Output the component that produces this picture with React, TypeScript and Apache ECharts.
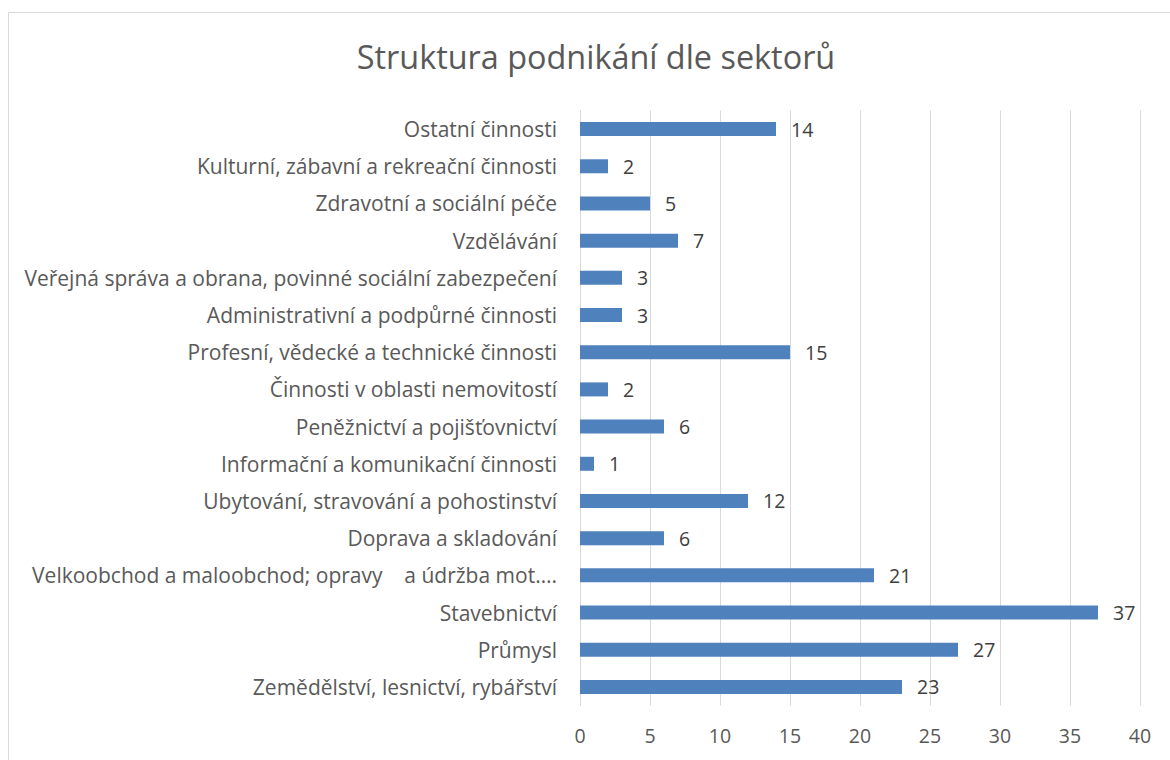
import React, { useEffect, useRef } from "react";
import * as echarts from "echarts";

const categories = [
  "Zemědělství, lesnictví, rybářství",
  "Průmysl",
  "Stavebnictví",
  "Velkoobchod a maloobchod; opravy\u00a0\u00a0\u00a0 a údržba mot\u2026.",
  "Doprava a skladování",
  "Ubytování, stravování a pohostinství",
  "Informační a komunikační činnosti",
  "Peněžnictví a pojišťovnictví",
  "Činnosti v oblasti nemovitostí",
  "Profesní, vědecké a technické činnosti",
  "Administrativní a podpůrné činnosti",
  "Veřejná správa a obrana, povinné sociální zabezpečení",
  "Vzdělávání",
  "Zdravotní a sociální péče",
  "Kulturní, zábavní a rekreační činnosti",
  "Ostatní činnosti",
];
const values = [23, 27, 37, 21, 6, 12, 1, 6, 2, 15, 3, 3, 7, 5, 2, 14];
const titleText = "Struktura podnikání dle sektorů";
const font = "'Open Sans', 'Noto Sans', sans-serif";

export default function App() {
  const ref = useRef<HTMLDivElement>(null);
  useEffect(() => {
    if (!ref.current) return;
    const chart = echarts.init(ref.current, undefined, { renderer: "svg" });
    chart.setOption({
      animation: false,
      backgroundColor: "#ffffff",
      title: {
        text: titleText,
        left: 591,
        textAlign: "center",
        top: 35,
        textStyle: { fontFamily: font, fontSize: 32.4, fontWeight: "normal", color: "#595959" },
      },
      graphic: [
        {
          type: "rect",
          shape: { x: 8.5, y: 12.5, width: 1300, height: 900 },
          style: { fill: "none", stroke: "#D9D9D9", lineWidth: 1 },
          silent: true,
        },
      ],
      grid: { left: 580, right: 30, top: 110.5, bottom: 54.5 },
      xAxis: {
        type: "value",
        min: 0,
        max: 40,
        interval: 5,
        axisLine: { show: false },
        axisTick: { show: false },
        splitLine: { lineStyle: { color: "#D9D9D9", width: 1 } },
        axisLabel: { fontFamily: font, fontSize: 19.5, color: "#595959", margin: 20 },
      },
      yAxis: {
        type: "category",
        data: categories,
        axisLine: { show: true, lineStyle: { color: "#D9D9D9", width: 1 } },
        axisTick: { show: false },
        axisLabel: { fontFamily: font, fontSize: 21, color: "#595959", margin: 23 },
      },
      series: [
        {
          type: "bar",
          data: values,
          barWidth: 14,
          itemStyle: { color: "#4F81BD" },
          label: {
            show: true,
            position: "right",
            distance: 15,
            fontFamily: font,
            fontSize: 19.5,
            color: "#404040",
          },
        },
      ],
    });
    return () => chart.dispose();
  }, []);
  return (
    <div
      ref={ref}
      style={{ position: "fixed", left: 0, top: 0, width: 1170, height: 760 }}
    />
  );
}
